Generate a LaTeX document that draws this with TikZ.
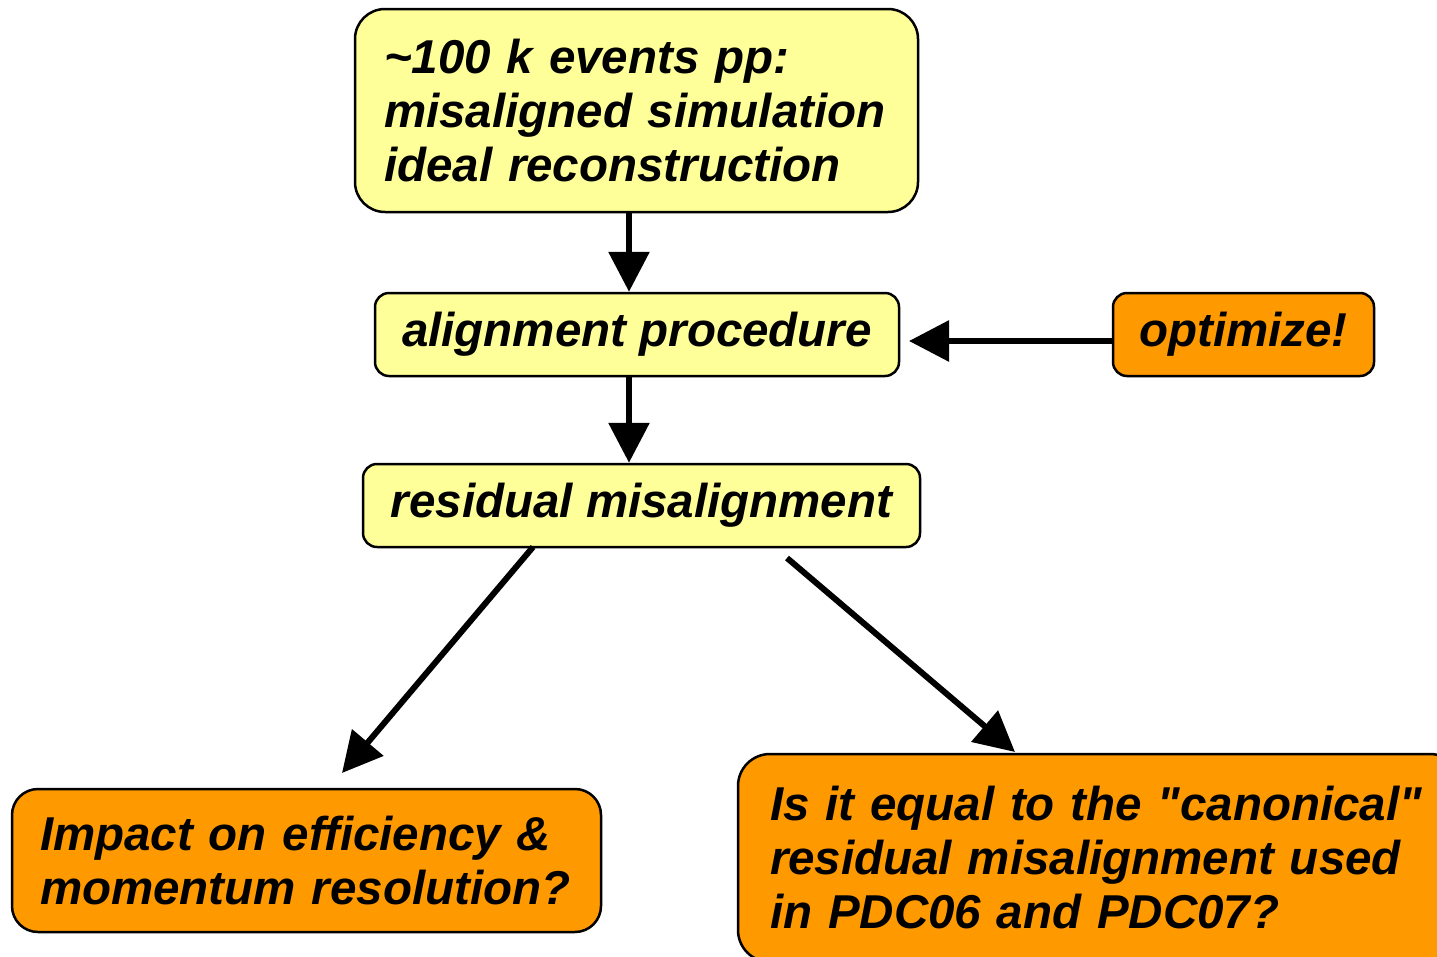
\documentclass[tikz,border=0pt]{standalone}
\usepackage{fontspec}
\setmainfont{Liberation Sans}
\usetikzlibrary{arrows.meta,calc}
\definecolor{ylw}{HTML}{FFFF99}
\definecolor{org}{HTML}{FF9900}
\begin{document}
\begin{tikzpicture}[x=1pt,y=-1pt,
  box/.style={draw=black, line width=2.5pt, inner sep=0pt, font=\fontsize{47.5}{54}\selectfont\bfseries\itshape},
  ybox/.style={box, fill=ylw},
  obox/.style={box, fill=org},
  conn/.style={line width=6pt, -{Triangle[length=40pt,width=40pt]}}]
\useasboundingbox (0,0) rectangle (1437,956);
\fill[white] (0,0) rectangle (1437,956);
\clip (0,0) rectangle (1437,956);
\node[ybox, rounded corners=30pt, text width=505pt, inner xsep=29pt, minimum height=203pt, align=left] (top) at (636.5,110.5)
  {\textasciitilde100 k events pp:\\misaligned simulation\\ideal reconstruction};
\node[ybox, rounded corners=14pt, minimum width=524pt, minimum height=83pt] (align) at (637,334.5) {alignment procedure};
\node[ybox, rounded corners=14pt, minimum width=557pt, minimum height=83pt] (resid) at (641.5,505.5) {residual misalignment};
\node[obox, rounded corners=14pt, minimum width=261pt, minimum height=83pt] (opt) at (1243.5,334.5) {optimize!};
\node[obox, rounded corners=26pt, text width=533pt, inner xsep=28pt, minimum height=143pt, align=left] (impact) at (306.5,860.5)
  {Impact on efficiency \&\\momentum resolution?};
\node[obox, rounded corners=32pt, text width=660pt, inner xsep=32pt, minimum height=208pt, align=left] (canon) at (1100,858)
  {Is it equal to the \textquotedbl canonical\textquotedbl\\residual misalignment used\\in PDC06 and PDC07?};
\coordinate (t1) at (629,212);
\coordinate (t2) at (629,293);
\coordinate (a1) at (629,376);
\coordinate (a2) at (629,463);
\coordinate (o1) at (909,341);
\coordinate (r1) at (533,547);
\coordinate (i1) at (342,773);
\coordinate (r2) at (787,558);
\coordinate (c1) at (1015,752);
\draw[conn] (top.south -| t1) -- (align.north -| t2);
\draw[conn] (align.south -| a1) -- (resid.north -| a2);
\draw[conn] (opt.west |- o1) -- (o1);
\draw[conn] (r1) -- (i1);
\draw[conn] (r2) -- (c1);
\end{tikzpicture}
\end{document}
